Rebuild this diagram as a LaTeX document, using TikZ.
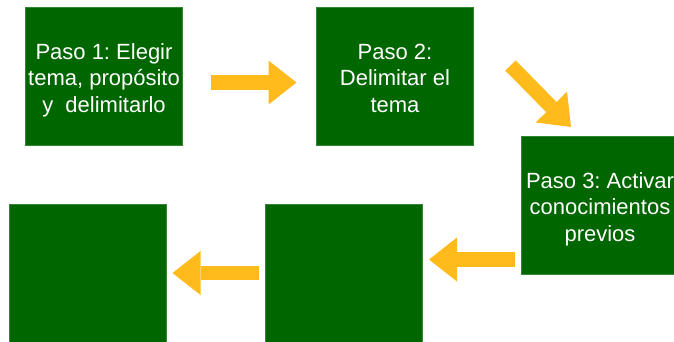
\documentclass[tikz,border=0pt]{standalone}
\usepackage{fontspec}
\setmainfont{Liberation Sans}
\usetikzlibrary{arrows.meta}
\definecolor{boxgreen}{RGB}{0,102,0}
\definecolor{arrowyellow}{RGB}{255,187,28}
\tikzset{
  stepbox/.style={fill=boxgreen, draw=boxgreen!80!white, line width=0.4pt,
    minimum width=157pt, minimum height=138pt, inner sep=0pt,
    text=white, align=center, font=\fontsize{22}{26.7}\selectfont\frenchspacing},
  blockarrow/.style={draw=arrowyellow, line width=14.5pt,
    -{Triangle[length=28pt 0 0, width=44pt 0 0, line width=0pt 0 0, fill=arrowyellow]}}
}
\newcommand{\topstrut}{\rule{0pt}{26.7pt}}
\newcommand{\botstrut}{\rule[-8pt]{0pt}{8pt}}
\begin{document}
\begin{tikzpicture}[x=1pt,y=-1pt]
\clip (0,0) rectangle (674,341);
\node[stepbox] (b1) at (104,76.5) {\topstrut Paso 1: Elegir\\tema, propósito\\y\ \ delimitarlo\botstrut};
\node[stepbox] (b2) at (395,76.5) {\topstrut Paso 2:\\Delimitar el\\tema\botstrut};
\node[stepbox] (b3) at (600,205.5) {\topstrut Paso 3: Activar\\conocimientos\\previos\botstrut};
\node[stepbox] (b4) at (343.5,273.5) {};
\node[stepbox] (b5) at (87.5,273.5) {};
\coordinate (a1s) at (210.5,82.5);
\coordinate (a1e) at (296.5,82.5);
\coordinate (a2s) at (510.5,65.5);
\coordinate (a2e) at (571,127);
\coordinate (a3s) at (514.5,259.5);
\coordinate (a3e) at (429,259.5);
\coordinate (a4s) at (258.5,273);
\coordinate (a4e) at (172.5,273);
\draw[blockarrow] (a1s) -- (a1e);
\draw[blockarrow] (a2s) -- (a2e);
\draw[blockarrow] (a3s) -- (a3e);
\draw[blockarrow] (a4s) -- (a4e);
\end{tikzpicture}
\end{document}
